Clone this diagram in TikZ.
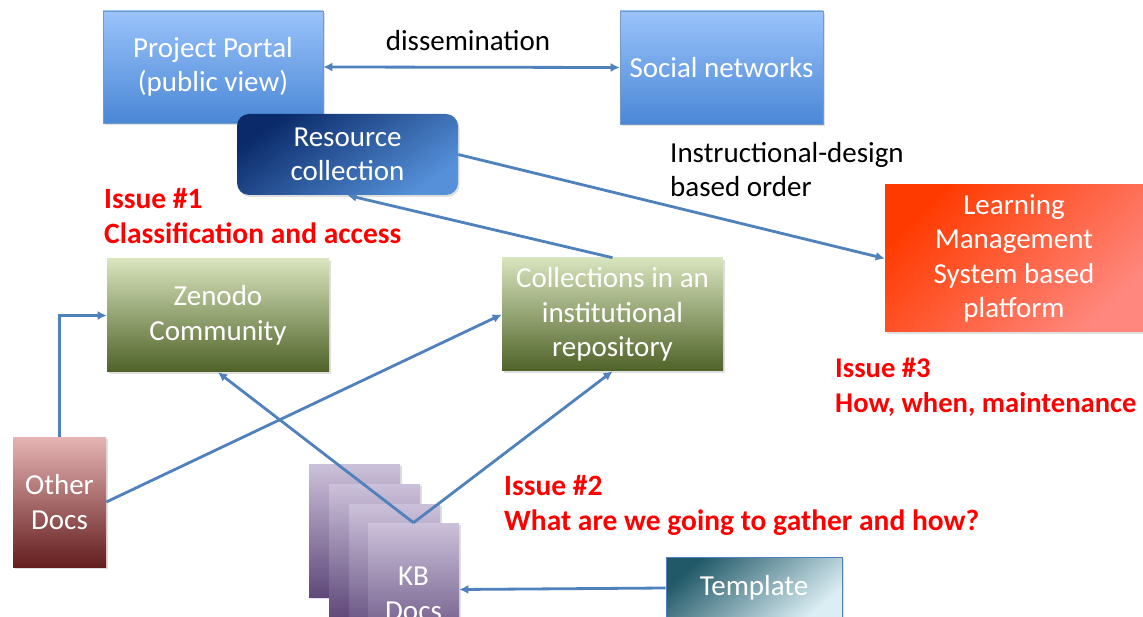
\documentclass[tikz,border=0pt]{standalone}
\usepackage{fontspec}
\setmainfont{Carlito}
\usetikzlibrary{arrows.meta,shadows}
\definecolor{arrowblue}{HTML}{4F81BD}
\definecolor{issuered}{HTML}{FF0000}
\begin{document}
\begin{tikzpicture}[x=1pt,y=-1pt,
  every node/.style={font=\fontsize{29}{34.5}\selectfont, align=center},
  box/.style={text=white, draw=#1, line width=0.6pt, inner sep=0pt,
    drop shadow={opacity=0.25, shadow xshift=1.5pt, shadow yshift=-2pt}},
  bluebox/.style={box=arrowblue!80!white, top color={rgb,255:red,154;green,195;blue,250}, bottom color={rgb,255:red,74;green,135;blue,214}},
  greenbox/.style={box={white!0}, draw=none, top color={rgb,255:red,216;green,228;blue,189}, bottom color={rgb,255:red,79;green,98;blue,40}},
  purplebox/.style={box={white!0}, draw=none, top color={rgb,255:red,204;green,193;blue,218}, bottom color={rgb,255:red,95;green,73;blue,122}},
  conn/.style={draw=arrowblue, line width=2.8pt, -{Latex[length=9pt,width=9pt]}},
  issue/.style={text=issuered, font=\fontsize{29.5}{35}\selectfont\bfseries, align=left, anchor=north west, inner sep=0pt},
  plain/.style={text=black, align=left, inner sep=0pt}
]
\clip (0,0) rectangle (1143,617);
\fill[white] (0,0) rectangle (1143,617);

% top row
\node[bluebox, minimum width=220, minimum height=112] (portal) at (213,67) {Project Portal\\(public view)};
\node[bluebox, minimum width=203, minimum height=113] (social) at (721.5,67.5) {Social networks};
\node[plain, anchor=center] (dissem) at (468,41) {dissemination};

\node[box={white!0}, draw=none, rounded corners=12, minimum width=221, minimum height=81,
  shading=axis, top color={rgb,255:red,10;green,42;blue,105}, bottom color={rgb,255:red,85;green,144;blue,216}, shading angle=35]
  (res) at (347.5,154.5) {Resource\\collection};

\node[plain, anchor=north west] (instr) at (670,142) {Instructional-design\\based order};

\node[box={white!0}, draw=none, minimum width=258, minimum height=147,
  shading=axis, top color={rgb,255:red,255;green,58;blue,0}, bottom color={rgb,255:red,255;green,135;blue,125}, shading angle=45]
  (lms) at (1014,258.5) {\fontsize{29}{35.5}\selectfont Learning\\Management\\System based\\platform};

\node[issue] (iss1) at (104,188) {Issue \#1\\Classification and access};
\node[issue, font=\fontsize{28.6}{35}\selectfont\bfseries] (iss3) at (835,358) {Issue \#3\\How, when, maintenance};
\node[issue] (iss2) at (504,475) {Issue \#2\\What are we going to gather and how?};

\node[greenbox, minimum width=222, minimum height=113] (zen) at (218,315.5) {Zenodo\\Community};
\node[greenbox, minimum width=221, minimum height=113] (coll) at (612.5,314.5) {Collections in an\\institutional\\repository};

\node[box={white!0}, draw=none, minimum width=93, minimum height=130,
  top color={rgb,255:red,230;green,180;blue,180}, middle color={rgb,255:red,160;green,60;blue,60}, bottom color={rgb,255:red,100;green,30;blue,30}]
  (other) at (59.5,502) {Other\\Docs};

\node[purplebox, minimum width=91, minimum height=133] (kb1) at (354.5,530.5) {};
\node[purplebox, minimum width=91, minimum height=133] (kb2) at (374.5,550.5) {};
\node[purplebox, minimum width=91, minimum height=133] (kb3) at (394.5,570.5) {};
\node[purplebox, minimum width=91, minimum height=133] (kb4) at (413.5,589.5) {};
\node[text=white] (kbtext) at (413.5,594) {KB\\Docs};

\node[box=arrowblue, minimum width=176, minimum height=62,
  shading=axis, top color={rgb,255:red,33;green,89;blue,104}, bottom color={rgb,255:red,219;green,238;blue,244}, shading angle=40]
  (tmpl) at (754,588) {Template};

% connectors
\draw[conn, {Latex[length=9pt,width=9pt]}-{Latex[length=9pt,width=9pt]}] (portal.east) -- (social.west);
\draw[conn] (coll.north) -- (res.south);
\draw[conn] (res.east) -- (lms.west);
\draw[conn] (other.north) |- (zen.west);
\draw[conn] (other.east) -- (coll.west);
\draw[conn] (kb4.north) -- (zen.south);
\draw[conn] (kb4.north) -- (coll.south);
\draw[conn] (tmpl.west) -- (kb4.east);
\end{tikzpicture}
\end{document}
